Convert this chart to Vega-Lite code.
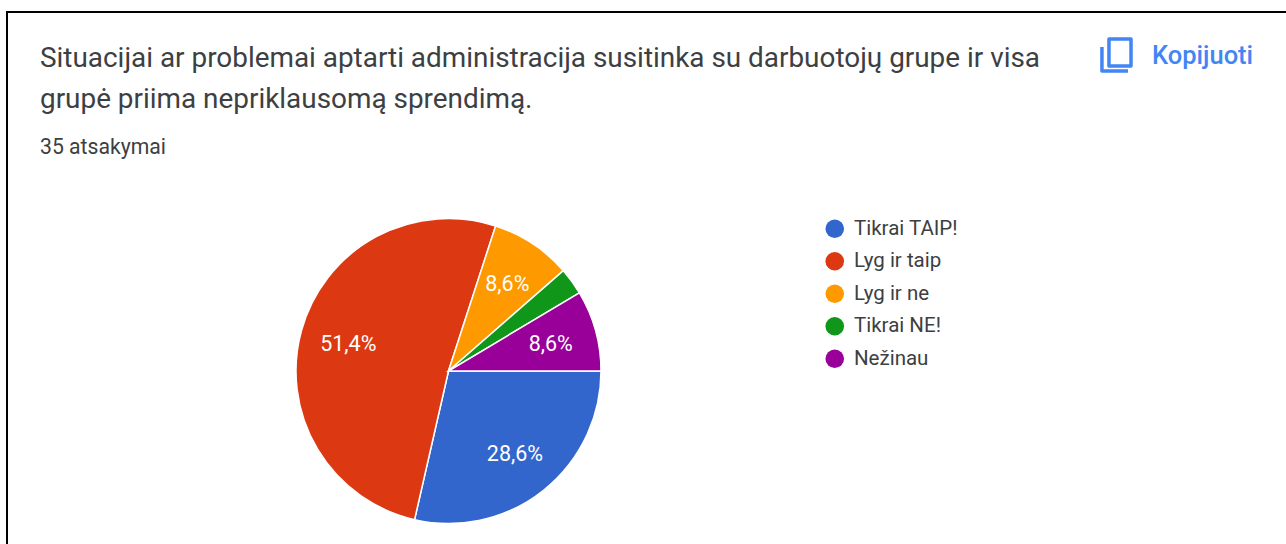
{
"$schema":"https://vega.github.io/schema/vega-lite/v6.json",
"width":1286,"height":544,"padding":0,"autosize":{"type":"none"},
"background":"white",
"config":{"view":{"stroke":null},"font":"Roboto"},
"title":{"text":["Situacijai ar problemai aptarti administracija susitinka su darbuotojų grupe ir visa","grupė priima nepriklausomą sprendimą."],"subtitle":"35 atsakymai","anchor":"start","frame":"group","orient":"top","offset":0,"dx":40,"dy":180,"font":"Roboto","fontSize":27.9,"fontWeight":"normal","lineHeight":41,"color":"#3c4043","subtitleFont":"Roboto","subtitleFontSize":21.2,"subtitleColor":"#3c4043","subtitlePadding":18,"baseline":"alphabetic"},
"datasets":{"answers":[
{"answer":"Tikrai TAIP!","count":10,"order":1,"label":"28,6%"},
{"answer":"Lyg ir taip","count":18,"order":2,"label":"51,4%"},
{"answer":"Lyg ir ne","count":3,"order":3,"label":"8,6%"},
{"answer":"Tikrai NE!","count":1,"order":4,"label":""},
{"answer":"Nežinau","count":3,"order":5,"label":"8,6%"}
]},
"layer":[
{"data":{"name":"answers"},
 "mark":{"type":"arc","outerRadius":152.5,"stroke":"white","strokeWidth":1.5},
 "encoding":{
  "x":{"value":448.5},"y":{"value":371},
  "theta":{"field":"count","type":"quantitative","stack":true,"scale":{"range":[1.5708,7.854]}},
  "order":{"field":"order","type":"quantitative"},
  "color":{"field":"answer","type":"nominal","scale":{"domain":["Tikrai TAIP!","Lyg ir taip","Lyg ir ne","Tikrai NE!","Nežinau"],"range":["#3366cc","#dc3912","#ff9900","#109618","#990099"]},
   "legend":{"title":null,"orient":"none","legendX":824.5,"legendY":218.5,"symbolType":"circle","symbolSize":346,"symbolStrokeWidth":0,"symbolOpacity":1,"labelFont":"Roboto","labelFontSize":20.5,"labelColor":"#3c4043","labelOffset":9,"rowPadding":11.5,"labelLimit":300}}
 }},
{"data":{"name":"answers"},
 "mark":{"type":"text","radius":105,"color":"white","fontSize":21.5,"font":"Roboto"},
 "encoding":{
  "x":{"value":449.5},"y":{"value":373},
  "theta":{"field":"count","type":"quantitative","stack":true},
  "order":{"field":"order","type":"quantitative"},
  "text":{"field":"label","type":"nominal"}
 }},
{"data":{"values":[{"name":"Kopijuoti"}]},
 "mark":{"type":"text","align":"left","baseline":"alphabetic","font":"Roboto","fontSize":25.5,"fontWeight":500,"color":"#4285f4","x":1152,"y":64},
 "encoding":{"text":{"field":"name","type":"nominal"}}},
{"data":{"values":[{"name":"icon"}]},
 "mark":{"type":"point","shape":"M-0.37,-0.84H0.79V0.58H-0.37Z M-0.74,-0.42V0.84H0.63","size":1444,"filled":false,"color":"#4285f4","strokeWidth":3.5,"opacity":1,"strokeJoin":"round","x":1116,"y":55},
 "encoding":{}},
{"data":{"values":[{"name":"frame-top"}]},
 "mark":{"type":"rule","color":"black","strokeWidth":2},
 "encoding":{"x":{"value":6},"x2":{"value":1286},"y":{"value":12}}},
{"data":{"values":[{"name":"frame-left"}]},
 "mark":{"type":"rule","color":"black","strokeWidth":2},
 "encoding":{"x":{"value":7},"y":{"value":11},"y2":{"value":544}}}
]
}
